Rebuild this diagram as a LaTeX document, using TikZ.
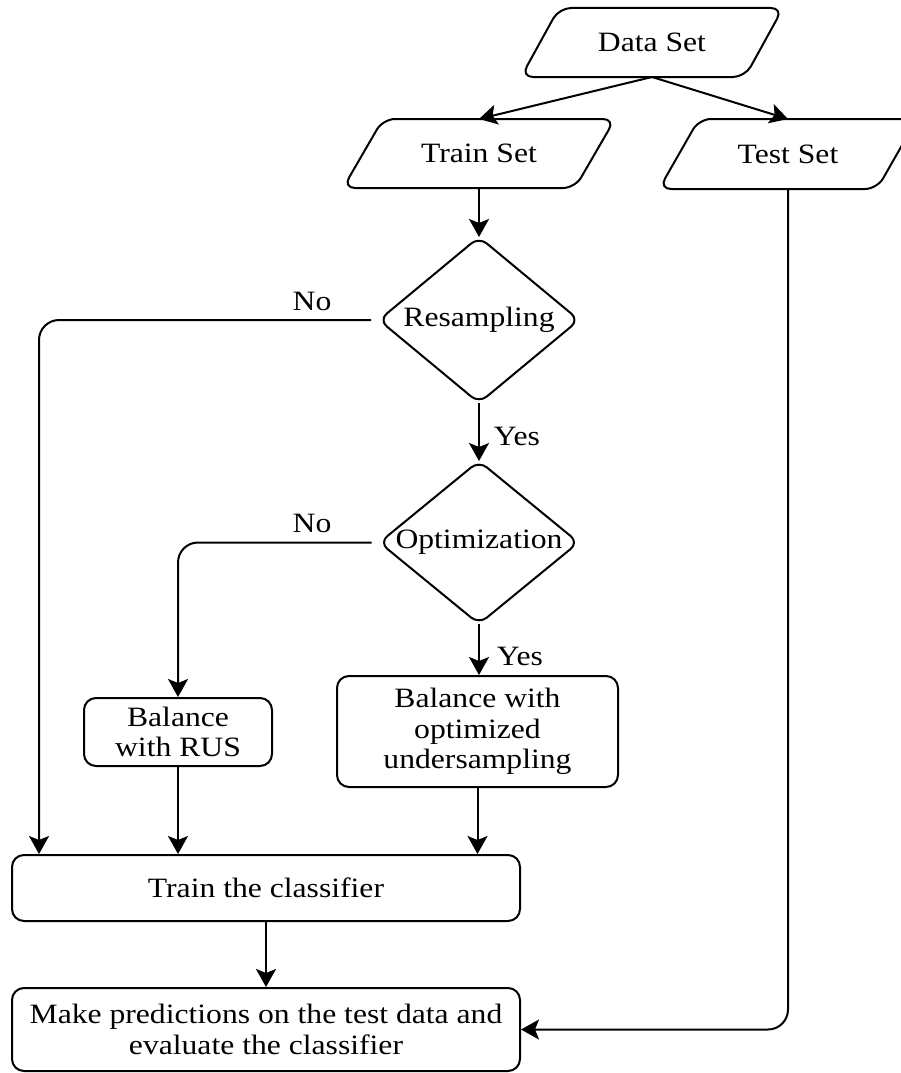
\documentclass[tikz,border=0pt]{standalone}
\usepackage{fontspec}
\setmainfont{Liberation Serif}[FakeStretch=1.13]
\usetikzlibrary{arrows.meta}
\begin{document}
\begin{tikzpicture}[x=1pt,y=-1pt, line width=2pt,
  font=\fontsize{28}{30.5}\selectfont,
  frame/.style={inner sep=0pt, align=center},
  outline/.style={draw, line width=2pt, rounded corners=12pt, line join=round},
  box/.style={draw, line width=2pt, rounded corners=12pt, inner sep=0pt, align=center},
  con/.style={line width=2pt, -{Stealth[length=18pt,width=20pt,inset=4pt]}},
  lbl/.style={inner sep=0pt}]
\useasboundingbox (0,0) rectangle (900,1073);

% parallelograms
\node[frame, minimum width=260pt, minimum height=67pt] (data) at (652,42.5) {Data Set};
\draw[outline] (data.south west) -- ([xshift=38pt]data.north west) -- (data.north east) -- ([xshift=-38pt]data.south east) -- cycle;
\node[frame, minimum width=270pt, minimum height=67pt] (train) at (479,153.5) {Train Set};
\draw[outline] (train.south west) -- ([xshift=40pt]train.north west) -- (train.north east) -- ([xshift=-40pt]train.south east) -- cycle;
\node[frame, minimum width=256pt, minimum height=68pt] (test) at (788,154) {Test Set};
\draw[outline] (test.south west) -- ([xshift=40pt]test.north west) -- (test.north east) -- ([xshift=-40pt]test.south east) -- cycle;

% decisions
\node[frame, minimum width=198pt, minimum height=164pt] (res) at (479,320) {Resampling};
\draw[outline, rounded corners=10pt] (res.north) -- (res.east) -- (res.south) -- (res.west) -- cycle;
\node[frame, minimum width=197pt, minimum height=161pt] (opt) at (479,542.5) {Optimization};
\draw[outline, rounded corners=10pt] (opt.north) -- (opt.east) -- (opt.south) -- (opt.west) -- cycle;

% processes
\node[box, minimum width=188pt, minimum height=68pt] (rus) at (178,732) {Balance\\with RUS};
\node[box, minimum width=281pt, minimum height=111pt] (ous) at (477.5,731.5) {Balance with\\optimized\\undersampling};
\node[box, minimum width=508pt, minimum height=66pt] (cls) at (266,888) {Train the classifier};
\node[box, minimum width=508pt, minimum height=83pt] (make) at (266,1029.5) {Make predictions on the test data and\\evaluate the classifier};

% labels
\node[lbl] (no1) at (312,301) {No};
\node[lbl] (no2) at (312,523) {No};
\node[lbl] (yes1) at (517,436) {Yes};
\node[lbl] (yes2) at (520,656) {Yes};

% connectors
\draw[con] (data.south) -- (train.north);
\draw[con] (data.south) -- (test.north);
\draw[con] (train.south) -- (res.north);
\draw[con] (res.south) -- (opt.north);
\draw[con] (opt.south) -- (opt.south |- ous.north);
\draw[con, rounded corners=20pt] ([xshift=-8pt]res.west) -| ([xshift=28pt]cls.north west);
\draw[con, rounded corners=20pt] ([xshift=-8pt]opt.west) -| (rus.north);
\draw[con] (rus.south) -- (rus.south |- cls.north);
\draw[con] (ous.south) -- (ous.south |- cls.north);
\draw[con] (cls.south) -- (make.north);
\draw[con, rounded corners=20pt] (test.south) |- (make.east);
\end{tikzpicture}
\end{document}
